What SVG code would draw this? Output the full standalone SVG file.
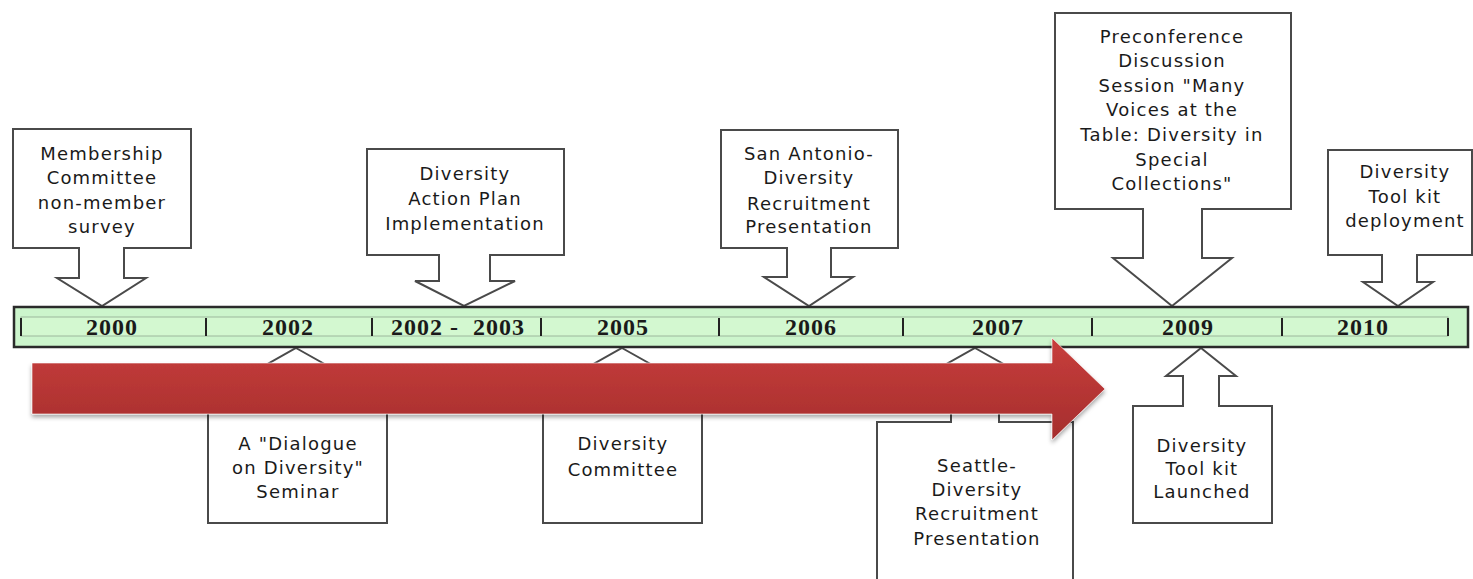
<svg xmlns="http://www.w3.org/2000/svg" width="1473" height="579" viewBox="0 0 1473 579">
<style>
.co{fill:#fff;stroke:#4a4a4a;stroke-width:2;stroke-linejoin:miter}
.t{font-family:"DejaVu Sans",sans-serif;font-size:18px;letter-spacing:1.2px;fill:#1a1a1a;text-anchor:middle}
.yr{font-family:"Liberation Serif",serif;font-size:24px;font-weight:bold;letter-spacing:1px;fill:#1a1a1a;text-anchor:middle;white-space:pre}
.tick{stroke:#222;stroke-width:2}
</style>
<defs>
<linearGradient id="rg" x1="0" y1="0" x2="0" y2="1">
<stop offset="0" stop-color="#c83e3c"/>
<stop offset="1" stop-color="#a52e2d"/>
</linearGradient>
<filter id="sh" x="-5%" y="-30%" width="110%" height="160%">
<feDropShadow dx="0" dy="3" stdDeviation="2" flood-color="#000" flood-opacity="0.35"/>
</filter>
</defs>
<rect width="1473" height="579" fill="#fff"/>

<g id="n-membership">
<path class="co" d="M13,129 H191 V248 H124 V278 H146 L102,306 L57,278 H79 V248 H13 Z"/>
<text class="t" x="102" y="160">Membership</text>
<text class="t" x="102" y="184">Committee</text>
<text class="t" x="102" y="209">non-member</text>
<text class="t" x="102" y="233">survey</text>
</g>

<g id="n-action-plan">
<path class="co" d="M367,149 H564 V255 H490 V281 H515 L464,306 L415,281 H439 V255 H367 Z"/>
<text class="t" x="465" y="180">Diversity</text>
<text class="t" x="465" y="205">Action Plan</text>
<text class="t" x="465" y="230">Implementation</text>
</g>

<g id="n-san-antonio">
<path class="co" d="M721,130 H898 V248 H831 V277 H853 L809,306 L764,277 H787 V248 H721 Z"/>
<text class="t" x="809" y="160">San Antonio-</text>
<text class="t" x="809" y="184">Diversity</text>
<text class="t" x="809" y="210">Recruitment</text>
<text class="t" x="809" y="233">Presentation</text>
</g>

<g id="n-preconference">
<path class="co" d="M1055,13 H1291 V209 H1202 V258 H1232 L1172,306 L1113,258 H1143 V209 H1055 Z"/>
<text class="t" x="1172" y="43">Preconference</text>
<text class="t" x="1172" y="67">Discussion</text>
<text class="t" x="1172" y="92">Session "Many</text>
<text class="t" x="1172" y="116">Voices at the</text>
<text class="t" x="1172" y="141">Table: Diversity in</text>
<text class="t" x="1172" y="166">Special</text>
<text class="t" x="1172" y="190">Collections"</text>
</g>

<g id="n-toolkit-deployment">
<path class="co" d="M1328,150 H1472 V255 H1417 V282 H1433 L1398,306 L1363,282 H1382 V255 H1328 Z"/>
<text class="t" x="1405" y="178">Diversity</text>
<text class="t" x="1405" y="203">Tool kit</text>
<text class="t" x="1405" y="227">deployment</text>
</g>

<g id="n-dialogue">
<path class="co" d="M296,348 L344,375 H320 V405 H387 V523 H208 V405 H272 V375 H248 Z"/>
<text class="t" x="298" y="450">A "Dialogue</text>
<text class="t" x="298" y="474">on Diversity"</text>
<text class="t" x="298" y="498">Seminar</text>
</g>

<g id="n-committee">
<path class="co" d="M622,348 L670,375 H646 V405 H702 V523 H543 V405 H598 V375 H574 Z"/>
<text class="t" x="623" y="450">Diversity</text>
<text class="t" x="623" y="476">Committee</text>
</g>

<g id="n-seattle">
<path class="co" d="M975,348 L1023,375 H999 V422 H1073 V600 H877 V422 H951 V375 H927 Z"/>
<text class="t" x="977" y="472">Seattle-</text>
<text class="t" x="977" y="496">Diversity</text>
<text class="t" x="977" y="520">Recruitment</text>
<text class="t" x="977" y="545">Presentation</text>
</g>

<g id="n-toolkit-launched">
<path class="co" d="M1201,348 L1236,376 H1219 V406 H1272 V523 H1133 V406 H1183 V376 H1166 Z"/>
<text class="t" x="1202" y="452">Diversity</text>
<text class="t" x="1202" y="475">Tool kit</text>
<text class="t" x="1202" y="498">Launched</text>
</g>

<g id="timeline-bar">
<rect x="14" y="307" width="1454" height="40" fill="#ccf5cc" stroke="#2a2a2a" stroke-width="2.5"/>
<rect x="21" y="317" width="1427" height="19" fill="#d3f8d0" stroke="#9cb89c" stroke-width="1"/>
<line class="tick" x1="21" y1="318" x2="21" y2="336"/>
<line class="tick" x1="206" y1="318" x2="206" y2="336"/>
<line class="tick" x1="372" y1="318" x2="372" y2="336"/>
<line class="tick" x1="541" y1="318" x2="541" y2="336"/>
<line class="tick" x1="719" y1="318" x2="719" y2="336"/>
<line class="tick" x1="903" y1="318" x2="903" y2="336"/>
<line class="tick" x1="1092" y1="318" x2="1092" y2="336"/>
<line class="tick" x1="1282" y1="318" x2="1282" y2="336"/>
<line class="tick" x1="1448" y1="318" x2="1448" y2="336"/>
<text class="yr" x="112" y="335">2000</text>
<text class="yr" x="288" y="335">2002</text>
<text class="yr" x="458" y="335">2002 -  2003</text>
<text class="yr" x="623" y="335">2005</text>
<text class="yr" x="811" y="335">2006</text>
<text class="yr" x="998" y="335">2007</text>
<text class="yr" x="1188" y="335">2009</text>
<text class="yr" x="1363" y="335">2010</text>
</g>

<g id="connectors">
<path d="M32,363 H1052 V338 L1105,389 L1052,440 V414 H32 Z" fill="url(#rg)" stroke="#fff" stroke-width="1" stroke-opacity="0.6" filter="url(#sh)"/>
</g>
</svg>
